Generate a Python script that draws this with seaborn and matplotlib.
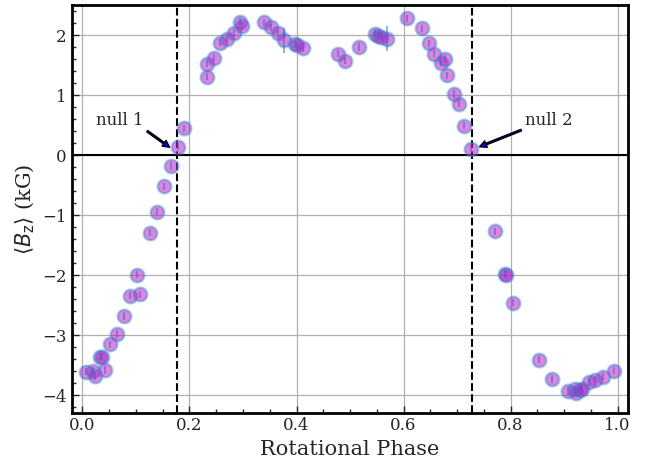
import numpy as np
import pandas as pd
import seaborn as sns
import matplotlib
matplotlib.use('Agg')
import matplotlib.pyplot as plt

sns.set_style('ticks')
plt.rcParams['font.family'] = ['DejaVu Serif']

# data
phase = [0.007, 0.019, 0.024, 0.033, 0.036, 0.043, 0.051, 0.064, 0.077, 0.088,
         0.102, 0.108, 0.127, 0.139, 0.152, 0.165, 0.178, 0.190,
         0.232, 0.232, 0.245, 0.257, 0.270, 0.284, 0.295, 0.298,
         0.340, 0.352, 0.365, 0.377, 0.398, 0.401, 0.412,
         0.478, 0.490, 0.516, 0.547, 0.553, 0.557, 0.569,
         0.606, 0.635, 0.648, 0.657, 0.670, 0.677, 0.682,
         0.695, 0.704, 0.713, 0.726,
         0.770, 0.790, 0.792, 0.804, 0.854, 0.877,
         0.907, 0.921, 0.922, 0.930, 0.934, 0.946, 0.958, 0.972, 0.994]
bz = [-3.61, -3.59, -3.68, -3.36, -3.36, -3.58, -3.15, -2.98, -2.68, -2.34,
      -1.99, -2.32, -1.29, -0.94, -0.52, -0.18, 0.14, 0.45,
      1.31, 1.52, 1.62, 1.87, 1.94, 2.04, 2.22, 2.15,
      2.21, 2.13, 2.03, 1.91, 1.85, 1.83, 1.78,
      1.69, 1.57, 1.80, 2.02, 1.99, 1.97, 1.94,
      2.28, 2.11, 1.86, 1.69, 1.54, 1.60, 1.33,
      1.02, 0.86, 0.49, 0.11,
      -1.27, -1.98, -1.99, -2.46, -3.41, -3.73,
      -3.93, -3.90, -3.96, -3.91, -3.89, -3.78, -3.74, -3.69, -3.59]
err = [0.06] * len(phase)
err[29] = 0.21
err[39] = 0.21

null1 = 0.177
null2 = 0.727

df = pd.DataFrame({'phase': phase, 'bz': bz, 'err': err})

fig = plt.figure(figsize=(6.52, 4.63), dpi=100)
ax = fig.add_axes([0.11, 0.109, 0.8537, 0.880])

ax.grid(True, color='#b0b0b0', lw=0.9, zorder=0)
ax.axhline(0, color='black', lw=1.5, zorder=1)
ax.axvline(null1, color='black', ls='--', lw=1.5, zorder=1)
ax.axvline(null2, color='black', ls='--', lw=1.5, zorder=1)

sns.scatterplot(data=df, x='phase', y='bz', ax=ax,
                facecolor=(0.78, 0.12, 0.8, 0.55),
                edgecolor=(0.2, 0.55, 0.8, 0.45),
                s=95, linewidth=1.8, zorder=2, legend=False)
ax.errorbar(df['phase'], df['bz'], yerr=df['err'], fmt='none',
            ecolor='C0', elinewidth=1.5, alpha=0.5, zorder=3)

ax.annotate('null 1', xy=(0.163, 0.13), xytext=(0.026, 0.58),
            fontsize=12, va='center',
            arrowprops=dict(facecolor='blue', edgecolor='black', width=1.2,
                            headwidth=5, headlength=5, shrink=0.0))
ax.annotate('null 2', xy=(0.742, 0.14), xytext=(0.826, 0.58),
            fontsize=12, va='center',
            arrowprops=dict(facecolor='blue', edgecolor='black', width=1.2,
                            headwidth=5, headlength=5, shrink=0.0))

ax.set_xlim(-0.02, 1.02)
ax.set_ylim(-4.29, 2.5)
ax.set_xticks([0.0, 0.2, 0.4, 0.6, 0.8, 1.0])
ax.set_yticks([-4, -3, -2, -1, 0, 1, 2])
ax.xaxis.set_minor_locator(matplotlib.ticker.MultipleLocator(0.05))
ax.yaxis.set_minor_locator(matplotlib.ticker.MultipleLocator(0.2))
ax.tick_params(which='both', direction='in', labelsize=12)
ax.tick_params(which='major', length=5, width=1)
ax.tick_params(which='minor', length=3, width=1)
for s in ax.spines.values():
    s.set_linewidth(2)
    s.set_color('black')

ax.set_xlabel('Rotational Phase', fontsize=15)
ax.set_ylabel(r'$\langle B_{\rm z}\rangle$ (kG)', fontsize=15)

fig.savefig('out.png', dpi=100)
